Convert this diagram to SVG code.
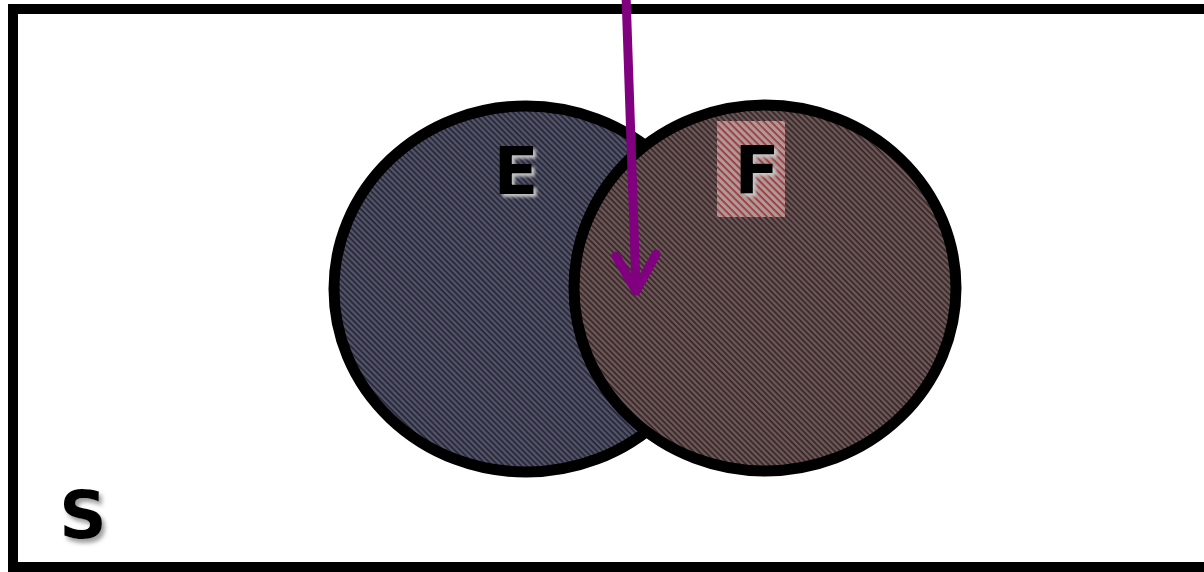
<svg xmlns="http://www.w3.org/2000/svg" width="1204" height="572" viewBox="0 0 1204 572">
<defs>
<pattern id="hatchE" width="4" height="4" patternUnits="userSpaceOnUse" patternTransform="rotate(45)">
<rect width="4" height="4" fill="#545468"/>
<rect width="4" height="1.6" fill="#222234"/>
</pattern>
<pattern id="hatchF" width="4" height="4" patternUnits="userSpaceOnUse" patternTransform="rotate(45)">
<rect width="4" height="4" fill="#6c5858"/>
<rect width="4" height="1.6" fill="#342222"/>
</pattern>
<pattern id="hatchL" width="5" height="5" patternUnits="userSpaceOnUse" patternTransform="rotate(45)">
<rect width="5" height="5" fill="#ad9b9b"/>
<rect width="5" height="1.8" fill="#a23838"/>
</pattern>
<filter id="emboss" x="-30%" y="-30%" width="160%" height="160%">
<feDropShadow dx="3" dy="3" stdDeviation="1.5" flood-color="#c8c8c8" flood-opacity="0.95"/>
</filter>
<filter id="shadowS" x="-30%" y="-30%" width="160%" height="160%">
<feDropShadow dx="3" dy="4" stdDeviation="2" flood-color="#888888" flood-opacity="0.8"/>
</filter>
</defs>
<style>
.lbl{font-family:"DejaVu Sans","Liberation Sans",sans-serif;font-weight:bold;font-size:66px;fill:#000;text-anchor:middle}
.ring{stroke:#000;stroke-width:11}
</style>
<rect width="1204" height="572" fill="#fff"/>
<g id="frame">
<rect x="13" y="9" width="1210" height="558" fill="none" stroke="#000" stroke-width="10"/>
<text class="lbl" x="83" y="538" font-size="64" filter="url(#shadowS)">S</text>
</g>
<g id="E">
<ellipse class="ring" cx="526" cy="289" rx="192" ry="183" fill="url(#hatchE)"/>
<text class="lbl" x="516" y="194" filter="url(#emboss)">E</text>
</g>
<g id="F">
<ellipse class="ring" cx="765" cy="288" rx="191" ry="183" fill="url(#hatchF)"/>
<rect x="717" y="121" width="68" height="96" fill="url(#hatchL)"/>
<text class="lbl" x="757" y="193" filter="url(#emboss)">F</text>
</g>
<g id="connectors" fill="none" stroke="#800080" stroke-width="9" stroke-linecap="round" stroke-linejoin="round">
<line x1="626" y1="-5" x2="636" y2="288"/>
<polyline points="616,256 636,291 656,254"/>
</g>
</svg>
